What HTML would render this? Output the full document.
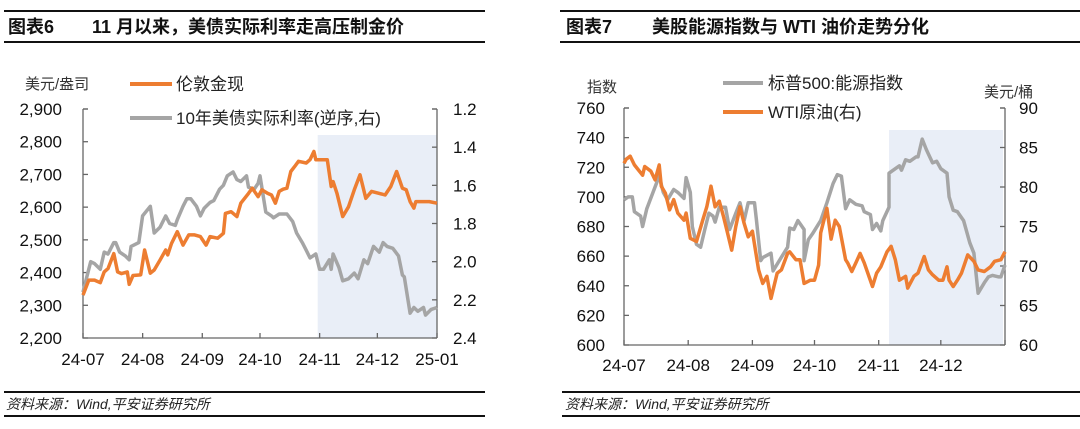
<!DOCTYPE html>
<html><head><meta charset="utf-8">
<style>
html,body{margin:0;padding:0;background:#fff;width:1080px;height:429px;overflow:hidden}
svg{display:block}
text{font-family:"Liberation Sans","Noto Sans CJK SC",sans-serif}
</style></head>
<body>
<svg id="root" width="1080" height="429" viewBox="0 0 1080 429">
  <g>
    <rect x="4" y="10" width="481" height="2" fill="#111"/>
    <rect x="4" y="41" width="481" height="2" fill="#111"/>
    <text x="8" y="33" font-size="18" font-weight="bold" fill="#111">图表6</text>
    <text x="92" y="33" font-size="18" font-weight="bold" fill="#111">11 月以来，美债实际利率走高压制金价</text>
  </g>
  <g>
    <rect x="560" y="10" width="520" height="2" fill="#111"/>
    <rect x="560" y="41" width="520" height="2" fill="#111"/>
    <text x="566" y="33" font-size="18" font-weight="bold" fill="#111">图表7</text>
    <text x="652" y="33" font-size="18" font-weight="bold" fill="#111">美股能源指数与 WTI 油价走势分化</text>
  </g>
  <g>
    <rect x="4" y="391" width="481" height="2" fill="#111"/>
    <rect x="4" y="415" width="481" height="2" fill="#111"/>
    <text x="6" y="409" font-size="14" font-style="italic" fill="#222">资料来源：Wind,平安证券研究所</text>
    <rect x="562" y="391" width="518" height="2" fill="#111"/>
    <rect x="562" y="415" width="518" height="2" fill="#111"/>
    <text x="565" y="409" font-size="14" font-style="italic" fill="#222">资料来源：Wind,平安证券研究所</text>
  </g>
  <g id="left-chart"></g>
  <g id="right-chart"></g>
</svg>
<script>
// ---- Left chart data ----
const goldDays = [0,3,6,9,11,13,16,18,20,23,24,26,30,32,35,37,40,43,44,46,49,52,55,58,61,64,66,70,73,74,77,80,82,86,88,91,93,96,98,100,102,104,106,108,110,112,116,118,120,121,123,127,129,130,132,135,138,141,144,147,150,154,157,160,163,166,168,170,172,173,177,180,184];
const goldValues = [2331,2377,2377,2369,2402,2412,2458,2402,2397,2402,2364,2391,2393,2469,2398,2408,2438,2469,2454,2489,2525,2484,2515,2515,2510,2484,2510,2505,2520,2581,2586,2571,2612,2642,2658,2632,2653,2642,2637,2612,2648,2655,2658,2709,2724,2740,2735,2745,2770,2745,2745,2745,2663,2678,2642,2571,2601,2653,2699,2627,2648,2642,2637,2663,2709,2658,2653,2617,2597,2617,2617,2617,2612];
const rateDays = [0,2,4,6,9,11,13,16,17,19,22,24,25,29,31,35,37,40,43,45,48,49,52,54,56,59,61,63,66,68,71,73,75,78,80,82,85,86,89,91,92,95,98,99,102,106,109,111,114,116,118,121,123,125,128,129,130,133,135,138,141,143,146,148,151,154,156,158,161,164,166,167,170,172,174,177,178,181,184];
const rateValues = [2.16,2.08,2.00,2.01,2.04,1.95,1.96,1.90,1.90,1.95,1.97,1.99,1.92,1.90,1.76,1.71,1.85,1.82,1.76,1.80,1.81,1.78,1.71,1.67,1.67,1.71,1.76,1.72,1.69,1.68,1.62,1.60,1.55,1.53,1.57,1.58,1.55,1.61,1.62,1.59,1.55,1.74,1.76,1.77,1.75,1.75,1.79,1.85,1.90,1.94,1.98,1.96,2.04,2.04,1.99,2.04,1.96,2.03,2.10,2.09,2.06,2.09,1.99,2.01,1.92,1.95,1.90,1.92,1.93,1.97,2.07,2.08,2.27,2.24,2.26,2.24,2.28,2.25,2.24];
const leftTicksL = [2200,2300,2400,2500,2600,2700,2800,2900];
const leftTicksR = [1.2,1.4,1.6,1.8,2.0,2.2,2.4];
const leftMonthLabels = ["24-07","24-08","24-09","24-10","24-11","24-12","25-01"];
const leftMonthDays = [0,31,62,92,123,153,184];

// ---- Right chart data ----
const spxDays = [0,2,4,5,8,9,11,14,17,19,21,24,26,29,30,32,33,35,37,39,41,43,44,46,49,51,54,56,58,60,63,64,66,67,71,72,75,79,80,82,84,87,87,89,91,95,98,101,103,105,107,109,112,115,116,119,120,122,124,125,128,128,130,133,134,136,138,141,142,144,146,149,151,153,156,157,159,161,164,167,169,171,174,176,178,181,182,184];
const spxValues = [698,700,700,690,687,680,692,703,714,703,698,705,703,699,713,703,680,668,666,678,689,687,683,693,693,678,689,696,684,696,696,684,657,659,662,650,657,666,679,678,684,678,657,671,675,684,696,709,715,714,692,698,695,694,690,688,678,682,677,684,693,716,718,721,718,725,724,727,727,739,732,723,724,719,716,700,691,690,684,669,662,635,642,646,647,646,646,654];
const wtiDays = [0,1,3,5,9,10,13,15,17,18,20,22,24,26,29,30,32,35,38,40,42,44,46,48,50,52,54,56,58,60,62,65,67,69,71,74,76,79,80,83,85,87,90,92,94,95,98,100,102,104,107,108,110,112,114,116,120,122,124,127,129,131,133,136,137,140,142,145,147,149,152,154,156,157,159,161,163,166,169,171,174,177,179,182,184];
const wtiValues = [83.0,83.5,83.9,82.8,81.5,82.6,82.0,80.9,82.8,80.1,79.2,77.1,78.4,76.7,75.8,76.7,73.5,73.1,75.8,77.5,80.1,77.5,78.2,76.3,74.2,72.0,75.0,77.5,75.4,73.7,74.4,69.5,67.8,68.7,65.9,69.1,69.5,71.6,71.8,70.8,70.8,67.8,68.2,68.2,70.1,74.2,77.3,73.4,75.8,75.0,70.8,70.4,69.3,70.4,71.6,70.4,67.4,69.1,69.9,71.8,72.5,70.8,68.2,68.7,67.2,68.7,69.1,71.2,69.5,68.9,68.2,68.2,69.9,68.2,67.4,68.2,69.1,71.4,70.6,69.5,69.3,69.9,70.6,70.8,71.8];
const rightTicksL = [600,620,640,660,680,700,720,740,760];
const rightTicksR = [60,65,70,75,80,85,90];
const rightMonthLabels = ["24-07","24-08","24-09","24-10","24-11","24-12"];
const rightMonthDays = [0,31,62,92,123,153];

const NS = "http://www.w3.org/2000/svg";
function mk(parent, tag, attrs, txt){
  const e = document.createElementNS(NS, tag);
  for (const k in attrs) e.setAttribute(k, attrs[k]);
  if (txt !== undefined) e.textContent = txt;
  parent.appendChild(e);
  return e;
}
function lin(d0,d1,r0,r1){ return v => r0 + (v-d0)/(d1-d0)*(r1-r0); }
function pathOf(xs, ys, fx, fy){
  return xs.map((d,i)=>(i?"L":"M")+fx(d).toFixed(1)+","+fy(ys[i]).toFixed(1)).join("");
}
const FS = 17;

// ===== Left chart =====
(function(){
  const g = document.getElementById("left-chart");
  const X0=83, X1=437, Y0=338, Y1=109;
  const x = lin(0,184,X0,X1);
  const yL = lin(2200,2900,Y0,Y1);
  const yR = lin(2.4,1.2,Y0,Y1);
  const shade = mk(g,"rect",{x:x(122),y:135,width:X1-x(122),height:Y0-135,fill:"#e9eef7"});
  
  
  const ax = mk(g,"path",{d:`M${X0},${Y1}H${X0+5}M${X0},${Y1}V${Y0}H${X1}M${X1},${Y1}H${X1-5}M${X1},${Y1}V${Y0}`,stroke:"#666",fill:"none","stroke-width":1.3});
  
  
  leftTicksL.forEach(v=>{
    mk(g,"line",{x1:X0,x2:X0+5,y1:yL(v),y2:yL(v),stroke:"#666","stroke-width":1.3});
    const t = mk(g,"text",{x:62,y:yL(v)+6,"font-size":FS,"text-anchor":"end",fill:"#111"},v.toLocaleString("en-US"));
    
    
  });
  leftTicksR.forEach(v=>{
    mk(g,"line",{x1:X1,x2:X1-5,y1:yR(v),y2:yR(v),stroke:"#666","stroke-width":1.3});
    const t = mk(g,"text",{x:453,y:yR(v)+6,"font-size":FS,fill:"#111"},v.toFixed(1));
    
    
  });
  leftMonthDays.forEach((d,i)=>{
    mk(g,"line",{x1:x(d),x2:x(d),y1:Y0,y2:Y0-5,stroke:"#666","stroke-width":1.3});
    const t = mk(g,"text",{x:x(d),y:365,"font-size":FS,"text-anchor":"middle",fill:"#111"},leftMonthLabels[i]);
    
    
  });
  const rl = mk(g,"path",{d:pathOf(rateDays,rateValues,x,yR),stroke:"#a5a5a5","stroke-width":3.5,fill:"none","stroke-linejoin":"round"});
  
  
  const gl = mk(g,"path",{d:pathOf(goldDays,goldValues,x,yL),stroke:"#ed7d31","stroke-width":3.5,fill:"none","stroke-linejoin":"round"});
  
  
  const u = mk(g,"text",{x:25,y:89,"font-size":15,fill:"#333"},"美元/盎司");
  
  
  const l1 = mk(g,"g",{});
  
  
  mk(l1,"line",{x1:130,x2:172,y1:84,y2:84,stroke:"#ed7d31","stroke-width":4});
  mk(l1,"text",{x:176,y:90,"font-size":17,fill:"#222"},"伦敦金现");
  const l2 = mk(g,"g",{});
  
  
  mk(l2,"line",{x1:130,x2:172,y1:118,y2:118,stroke:"#a5a5a5","stroke-width":4});
  mk(l2,"text",{x:176,y:124,"font-size":17,fill:"#222"},"10年美债实际利率(逆序,右)");
})();

// ===== Right chart =====
(function(){
  const g = document.getElementById("right-chart");
  const X0=624, X1=1005, Y0=345, Y1=108;
  const x = lin(0,184,X0,X1);
  const yL = lin(600,760,Y0,Y1);
  const yR = lin(60,90,Y0,Y1);
  const shade = mk(g,"rect",{x:x(128),y:130,width:1003-x(128),height:Y0-130,fill:"#e9eef7"});
  
  
  const ax = mk(g,"path",{d:`M${X0},${Y1}H${X0+5}M${X0},${Y1}V${Y0}H${X1}M${X1},${Y1}H${X1-5}M${X1},${Y1}V${Y0}`,stroke:"#666",fill:"none","stroke-width":1.3});
  
  
  rightTicksL.forEach(v=>{
    mk(g,"line",{x1:X0,x2:X0+5,y1:yL(v),y2:yL(v),stroke:"#666","stroke-width":1.3});
    const t = mk(g,"text",{x:605,y:yL(v)+6,"font-size":FS,"text-anchor":"end",fill:"#111"},String(v));
    
    
  });
  rightTicksR.forEach(v=>{
    mk(g,"line",{x1:X1,x2:X1-5,y1:yR(v),y2:yR(v),stroke:"#666","stroke-width":1.3});
    const t = mk(g,"text",{x:1019,y:yR(v)+6,"font-size":FS,fill:"#111"},String(v));
    
    
  });
  rightMonthDays.forEach((d,i)=>{
    mk(g,"line",{x1:x(d),x2:x(d),y1:Y0,y2:Y0-5,stroke:"#666","stroke-width":1.3});
    const t = mk(g,"text",{x:x(d),y:371,"font-size":FS,"text-anchor":"middle",fill:"#111"},rightMonthLabels[i]);
    
    
  });
  mk(g,"line",{x1:X1,x2:X1,y1:Y0,y2:Y0-5,stroke:"#666","stroke-width":1.3});
  const sl = mk(g,"path",{d:pathOf(spxDays,spxValues,x,yL),stroke:"#a5a5a5","stroke-width":3.5,fill:"none","stroke-linejoin":"round"});
  
  
  const wl = mk(g,"path",{d:pathOf(wtiDays,wtiValues,x,yR),stroke:"#ed7d31","stroke-width":3.5,fill:"none","stroke-linejoin":"round"});
  
  
  const u1 = mk(g,"text",{x:587,y:92,"font-size":15,fill:"#333"},"指数");
  
  
  const u2 = mk(g,"text",{x:984,y:97,"font-size":15,fill:"#333"},"美元/桶");
  
  
  const l1 = mk(g,"g",{});
  
  
  mk(l1,"line",{x1:723,x2:763,y1:83,y2:83,stroke:"#a5a5a5","stroke-width":4});
  mk(l1,"text",{x:768,y:89,"font-size":17,fill:"#222"},"标普500:能源指数");
  const l2 = mk(g,"g",{});
  
  
  mk(l2,"line",{x1:723,x2:763,y1:112,y2:112,stroke:"#ed7d31","stroke-width":4});
  mk(l2,"text",{x:768,y:118,"font-size":17,fill:"#222"},"WTI原油(右)");
})();
</script>
</body></html>
